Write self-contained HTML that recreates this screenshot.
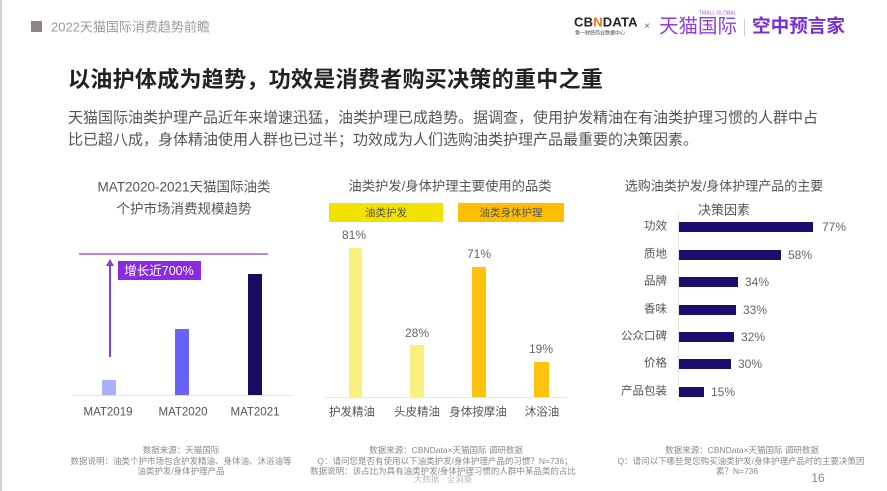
<!DOCTYPE html>
<html><head><meta charset="utf-8">
<style>
*{margin:0;padding:0;box-sizing:border-box}
html,body{width:887px;height:491px;background:#fff;overflow:hidden}
body{position:relative;font-family:"Liberation Sans","Noto Sans CJK SC",sans-serif;color:#555}
.c{position:absolute;white-space:nowrap;line-height:1;transform:translate(-50%,-50%)}
.l{position:absolute;white-space:nowrap;line-height:1;transform:translateY(-50%)}
.r{position:absolute;white-space:nowrap;line-height:1;transform:translate(-100%,-50%)}
.b{position:absolute}
</style></head><body>
<div class="b" style="left:0;top:0;width:2px;height:491px;background:#d4d4d4"></div>

<!-- header -->
<div class="b" style="left:31px;top:21px;width:11px;height:11px;background:#8c8489"></div>
<div class="l" style="left:51px;top:27px;font-size:13px;color:#9a9a9a">2022天猫国际消费趋势前瞻</div>

<!-- logos -->
<div class="l" style="left:574px;top:22px;font-size:13px;font-weight:bold;color:#222;letter-spacing:0.2px">CB<span style="color:#e8731c">N</span>DATA</div>
<div class="l" style="left:575px;top:34px;font-size:5px;color:#444">第一财经商业数据中心</div>
<div class="c" style="left:647px;top:27px;font-size:10px;color:#666">×</div>
<div class="l" style="left:699px;top:14px;font-size:5px;color:#9b5fe0">TMALL GLOBAL</div>
<div class="l" style="left:659px;top:27px;font-size:19.5px;color:#8b3fe0">天猫国际</div>
<div class="b" style="left:744px;top:19px;width:1px;height:17px;background:#ccc"></div>
<div class="l" style="left:752px;top:27px;font-size:18.6px;font-weight:bold;color:#7a2ed6">空中预言家</div>

<!-- title -->
<div class="l" style="left:68px;top:80px;font-size:22px;font-weight:bold;color:#222;letter-spacing:0.3px">以油护体成为趋势，功效是消费者购买决策的重中之重</div>
<div class="l" style="left:68px;top:118px;font-size:15px;color:#555">天猫国际油类护理产品近年来增速迅猛，油类护理已成趋势。据调查，使用护发精油在有油类护理习惯的人群中占</div>
<div class="l" style="left:68px;top:140px;font-size:15px;color:#555">比已超八成，身体精油使用人群也已过半；功效成为人们选购油类护理产品最重要的决策因素。</div>

<!-- chart 1 -->
<div class="c" style="left:184px;top:187px;font-size:13.5px;color:#555">MAT2020-2021天猫国际油类</div>
<div class="c" style="left:184px;top:209px;font-size:13.5px;color:#555">个护市场消费规模趋势</div>
<div class="b" style="left:79px;top:253px;width:189px;height:2px;background:#b785e3"></div>
<div class="b" style="left:109px;top:264px;width:2px;height:93px;background:#8a3dd0"></div>
<div class="b" style="left:106px;top:259px;width:0;height:0;border-left:4px solid transparent;border-right:4px solid transparent;border-bottom:7px solid #8a3dd0"></div>
<div class="b" style="left:118px;top:261px;width:83px;height:19px;background:#8b2be0"></div>
<div class="c" style="left:159px;top:271px;font-size:12.5px;color:#fff">增长近700%</div>
<div class="b" style="left:102px;top:380px;width:14px;height:15px;background:#aab0fb"></div>
<div class="b" style="left:175px;top:329px;width:14px;height:66px;background:#6a62f6"></div>
<div class="b" style="left:248px;top:274px;width:14px;height:121px;background:#1b0b60"></div>
<div class="b" style="left:72px;top:395px;width:220px;height:1px;background:#e2e2e2"></div>
<div class="c" style="left:108px;top:413px;font-size:11.5px;color:#555">MAT2019</div>
<div class="c" style="left:183px;top:413px;font-size:11.5px;color:#555">MAT2020</div>
<div class="c" style="left:255px;top:413px;font-size:11.5px;color:#555">MAT2021</div>

<!-- chart 2 -->
<div class="c" style="left:450px;top:186px;font-size:13.3px;color:#555">油类护发/身体护理主要使用的品类</div>
<div class="b" style="left:329px;top:203px;width:114px;height:19px;background:#f2e200"></div>
<div class="c" style="left:386px;top:212.5px;font-size:10.5px;color:#555">油类护发</div>
<div class="b" style="left:458px;top:203px;width:106px;height:19px;background:#ffbf00"></div>
<div class="c" style="left:511px;top:212.5px;font-size:10.5px;color:#555">油类身体护理</div>
<div class="c" style="left:354px;top:235px;font-size:12px;color:#666">81%</div>
<div class="b" style="left:349px;top:248px;width:13px;height:149px;background:#faf07e"></div>
<div class="c" style="left:417px;top:333px;font-size:12px;color:#666">28%</div>
<div class="b" style="left:410px;top:345px;width:14px;height:52px;background:#faf07e"></div>
<div class="c" style="left:479px;top:254px;font-size:12px;color:#666">71%</div>
<div class="b" style="left:472px;top:267px;width:14px;height:130px;background:#ffc20e"></div>
<div class="c" style="left:541px;top:349px;font-size:12px;color:#666">19%</div>
<div class="b" style="left:534px;top:362px;width:15px;height:35px;background:#ffc20e"></div>
<div class="b" style="left:325px;top:397px;width:242px;height:1px;background:#e6e6e6"></div>
<div class="c" style="left:352px;top:413px;font-size:11.5px;color:#555">护发精油</div>
<div class="c" style="left:417px;top:413px;font-size:11.5px;color:#555">头皮精油</div>
<div class="c" style="left:478px;top:413px;font-size:11.5px;color:#555">身体按摩油</div>
<div class="c" style="left:542px;top:413px;font-size:11.5px;color:#555">沐浴油</div>

<!-- chart 3 -->
<div class="c" style="left:724px;top:186px;font-size:13px;color:#555">选购油类护发/身体护理产品的主要</div>
<div class="c" style="left:724px;top:210px;font-size:13px;color:#555">决策因素</div>
<div class="b" style="left:678px;top:213px;width:1px;height:190px;background:#e4e4e4"></div>

<div class="r" style="left:667px;top:227px;font-size:11.5px;color:#555">功效</div>
<div class="b" style="left:679px;top:222px;width:134px;height:10px;background:#1c0d6e"></div>
<div class="l" style="left:822px;top:227px;font-size:12px;color:#666">77%</div>

<div class="r" style="left:667px;top:255px;font-size:11.5px;color:#555">质地</div>
<div class="b" style="left:679px;top:250px;width:102px;height:10px;background:#1c0d6e"></div>
<div class="l" style="left:788px;top:255px;font-size:12px;color:#666">58%</div>

<div class="r" style="left:667px;top:282px;font-size:11.5px;color:#555">品牌</div>
<div class="b" style="left:679px;top:277px;width:59px;height:10px;background:#1c0d6e"></div>
<div class="l" style="left:745px;top:282px;font-size:12px;color:#666">34%</div>

<div class="r" style="left:667px;top:310px;font-size:11.5px;color:#555">香味</div>
<div class="b" style="left:679px;top:305px;width:57px;height:10px;background:#1c0d6e"></div>
<div class="l" style="left:743px;top:310px;font-size:12px;color:#666">33%</div>

<div class="r" style="left:667px;top:337px;font-size:11.5px;color:#555">公众口碑</div>
<div class="b" style="left:679px;top:332px;width:55px;height:10px;background:#1c0d6e"></div>
<div class="l" style="left:741px;top:337px;font-size:12px;color:#666">32%</div>

<div class="r" style="left:667px;top:364px;font-size:11.5px;color:#555">价格</div>
<div class="b" style="left:679px;top:359px;width:52px;height:10px;background:#1c0d6e"></div>
<div class="l" style="left:738px;top:364px;font-size:12px;color:#666">30%</div>

<div class="r" style="left:667px;top:392px;font-size:11.5px;color:#555">产品包装</div>
<div class="b" style="left:679px;top:387px;width:25px;height:10px;background:#1c0d6e"></div>
<div class="l" style="left:711px;top:392px;font-size:12px;color:#666">15%</div>

<!-- footnotes -->
<div class="c" style="left:181px;top:450px;font-size:8.5px;color:#8a8a8a">数据来源：天猫国际</div>
<div class="c" style="left:181px;top:460.5px;font-size:8.5px;color:#8a8a8a">数据说明：油类个护市场包含护发精油、身体油、沐浴油等</div>
<div class="c" style="left:181px;top:471px;font-size:8.5px;color:#8a8a8a">油类护发/身体护理产品</div>

<div class="c" style="left:446px;top:450px;font-size:8.5px;color:#8a8a8a">数据来源：CBNData×天猫国际 调研数据</div>
<div class="c" style="left:445px;top:460.5px;font-size:8.5px;color:#8a8a8a">Q：请问您是否有使用以下油类护发/身体护理产品的习惯？N=736；</div>
<div class="c" style="left:443px;top:471px;font-size:8.5px;color:#8a8a8a">数据说明：该占比为具有油类护发/身体护理习惯的人群中某品类的占比</div>
<div class="c" style="left:443px;top:479px;font-size:8.5px;color:#bbb">大数据 · 全洞察</div>

<div class="c" style="left:742px;top:450px;font-size:8.5px;color:#8a8a8a">数据来源：CBNData×天猫国际 调研数据</div>
<div class="c" style="left:741px;top:460.5px;font-size:8.5px;color:#8a8a8a">Q：请问以下哪些是您购买油类护发/身体护理产品时的主要决策因</div>
<div class="c" style="left:737px;top:471px;font-size:8.5px;color:#8a8a8a">素？N=736</div>
<div class="c" style="left:818px;top:478px;font-size:12px;color:#888">16</div>
</body></html>
